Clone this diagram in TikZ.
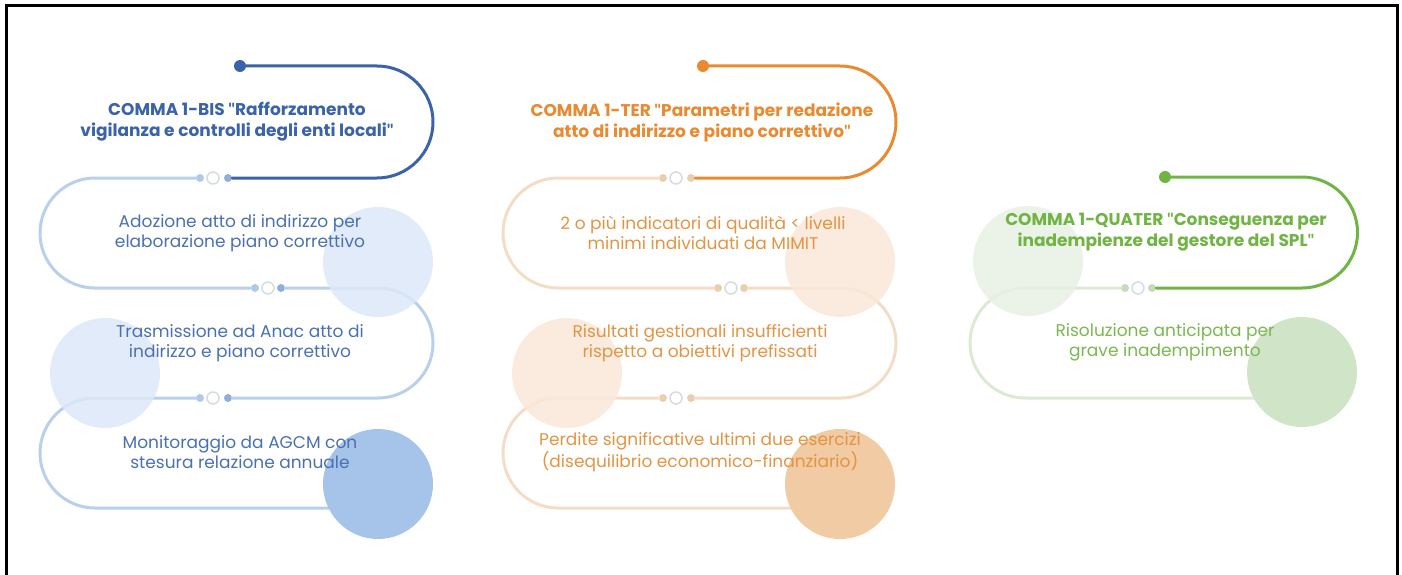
\documentclass[tikz,border=0pt]{standalone}
\usepackage{fontspec}
\setmainfont{Poppins}
\newfontfamily\quotefont{Lato}
\newcommand{\dq}{{\quotefont"}}
\newlength{\du}
\setlength{\du}{1pt}

% blue column
\definecolor{bluedark}{HTML}{3B63A7}
\definecolor{bluelight}{HTML}{B9CFEC}
\definecolor{bluetext}{HTML}{4A70B2}
\definecolor{bluepale}{HTML}{DCE8F8}
\definecolor{bluedeep}{HTML}{A6C3EA}
\definecolor{bluebeadl}{HTML}{B0C8EA}
\definecolor{bluebeadr}{HTML}{8FAEDD}
% orange column
\definecolor{orangedark}{HTML}{E98A30}
\definecolor{orangelight}{HTML}{F3DDC6}
\definecolor{orangetext}{HTML}{E39442}
\definecolor{orangepale}{HTML}{FAE8D9}
\definecolor{orangedeep}{HTML}{F0CBA3}
\definecolor{orangebead}{HTML}{E9CFAF}
% green column
\definecolor{greendark}{HTML}{70B543}
\definecolor{greenlight}{HTML}{DCE9D5}
\definecolor{greentext}{HTML}{7AB84F}
\definecolor{greenpale}{HTML}{E8F0E4}
\definecolor{greendeep}{HTML}{D0E5C8}
\definecolor{greenbead}{HTML}{C6DBBC}
\definecolor{ringgrey}{HTML}{D3DBE6}

\tikzset{
  trail/.style={line width=3\du, line cap=round},
  startdot/.style={circle, fill, inner sep=0pt, minimum size=12\du},
  bead/.style={circle, fill, inner sep=0pt, minimum size=8\du},
  knot/.style={circle, draw=ringgrey, fill=white, line width=1.5\du, inner sep=0pt, minimum size=12\du},
  blob/.style={circle, inner sep=0pt, minimum size=110\du, fill opacity=0.85},
  deepblob/.style={blob, fill opacity=1},
  headline/.style={font=\bfseries\fontsize{17\du}{21\du}\selectfont, align=center},
  stepline/.style={font=\fontsize{17\du}{20\du}\selectfont, align=center},
}

\begin{document}
\begin{tikzpicture}
\pgftransformyscale{-1.000000}
\useasboundingbox (0\du,0\du) rectangle (1402\du,575\du);
% frame
\draw[line width=3\du] (6\du,575\du)--(6\du,6\du)--(1397\du,6\du)--(1397\du,575\du);

% COMMA 1-BIS
\node[startdot, bluedark] (s1) at (240\du,66\du) {};
\node[bead, bluebeadl] (l1a) at (200\du,178\du) {};
\node[knot] (k1a) at (213\du,178\du) {};
\node[bead, bluebeadr] (r1a) at (228\du,178\du) {};
\node[bead, bluebeadl] (l1b) at (255\du,288\du) {};
\node[knot] (k1b) at (268\du,288\du) {};
\node[bead, bluebeadr] (r1b) at (281\du,288\du) {};
\node[bead, bluebeadl] (l1c) at (200\du,398\du) {};
\node[knot] (k1c) at (213\du,398\du) {};
\node[bead, bluebeadr] (r1c) at (228\du,398\du) {};
\coordinate (e1) at (378\du,508\du);
\draw[trail, bluedark] (s1) -- (377\du,66\du) arc(-90:90:56\du) -- (r1a);
\draw[trail, bluelight] (l1a) -- (95\du,178\du) arc(-90:-270:55\du) -- (l1b);
\draw[trail, bluelight] (r1b) -- (378\du,288\du) arc(-90:90:55\du) -- (r1c);
\draw[trail, bluelight] (l1c) -- (95\du,398\du) arc(-90:-270:55\du) -- (e1);
\node[blob, fill=bluepale] (c1a) at (378\du,262\du) {};
\node[blob, fill=bluepale] (c1b) at (105\du,373\du) {};
\node[deepblob, fill=bluedeep] (c1c) at (378\du,484\du) {};
\node[headline, bluedark] (t1) at (237\du,122\du) {COMMA 1-BIS \dq Rafforzamento\\vigilanza e controlli degli enti locali\dq};
\node[stepline, bluetext] (a1) at (240\du,233\du) {Adozione atto di indirizzo per\\elaborazione piano correttivo};
\node[stepline, bluetext] (a2) at (240\du,343\du) {Trasmissione ad Anac atto di\\indirizzo e piano correttivo};
\node[stepline, bluetext] (a3) at (240\du,452\du) {Monitoraggio da AGCM con\\stesura relazione annuale};

% COMMA 1-TER
\node[startdot, orangedark] (s2) at (703\du,66\du) {};
\node[bead, orangebead] (l2a) at (663\du,178\du) {};
\node[knot] (k2a) at (676\du,178\du) {};
\node[bead, orangebead] (r2a) at (691\du,178\du) {};
\node[bead, orangebead] (l2b) at (718\du,288\du) {};
\node[knot] (k2b) at (731\du,288\du) {};
\node[bead, orangebead] (r2b) at (744\du,288\du) {};
\node[bead, orangebead] (l2c) at (663\du,398\du) {};
\node[knot] (k2c) at (676\du,398\du) {};
\node[bead, orangebead] (r2c) at (691\du,398\du) {};
\coordinate (e2) at (841\du,508\du);
\draw[trail, orangedark] (s2) -- (840\du,66\du) arc(-90:90:56\du) -- (r2a);
\draw[trail, orangelight] (l2a) -- (558\du,178\du) arc(-90:-270:55\du) -- (l2b);
\draw[trail, orangelight] (r2b) -- (841\du,288\du) arc(-90:90:55\du) -- (r2c);
\draw[trail, orangelight] (l2c) -- (558\du,398\du) arc(-90:-270:55\du) -- (e2);
\node[blob, fill=orangepale] (c2a) at (840\du,262\du) {};
\node[blob, fill=orangepale] (c2b) at (567\du,373\du) {};
\node[deepblob, fill=orangedeep] (c2c) at (840\du,484\du) {};
\node[headline, orangedark] (t2) at (702\du,122\du) {COMMA 1-TER \dq Parametri per redazione\\atto di indirizzo e piano correttivo\dq};
\node[stepline, orangetext] (b1) at (703\du,233\du) {2 o più indicatori di qualità < livelli\\minimi individuati da MIMIT};
\node[stepline, orangetext] (b2) at (700\du,343\du) {Risultati gestionali insufficienti\\rispetto a obiettivi prefissati};
\node[stepline, orangetext] (b3) at (700\du,452\du) {Perdite significative ultimi due esercizi\\(disequilibrio economico-finanziario)};

% COMMA 1-QUATER
\node[startdot, greendark] (s3) at (1165\du,177\du) {};
\node[bead, greenbead] (l3a) at (1125\du,288\du) {};
\node[knot] (k3a) at (1138\du,288\du) {};
\node[bead, greenbead] (r3a) at (1152\du,288\du) {};
\coordinate (e3) at (1302\du,398\du);
\draw[trail, greendark] (s3) -- (1302\du,177\du) arc(-90:90:55.5\du) -- (r3a);
\draw[trail, greenlight] (l3a) -- (1025\du,288\du) arc(-90:-270:55\du) -- (e3);
\node[blob, fill=greenpale] (c3a) at (1028\du,261\du) {};
\node[deepblob, fill=greendeep] (c3b) at (1302\du,372\du) {};
\node[headline, greendark] (t3) at (1166\du,232\du) {COMMA 1-QUATER \dq Conseguenza per\\inadempienze del gestore del SPL\dq};
\node[stepline, greentext] (g1) at (1165\du,342\du) {Risoluzione anticipata per\\grave inadempimento};
\end{tikzpicture}
\end{document}
